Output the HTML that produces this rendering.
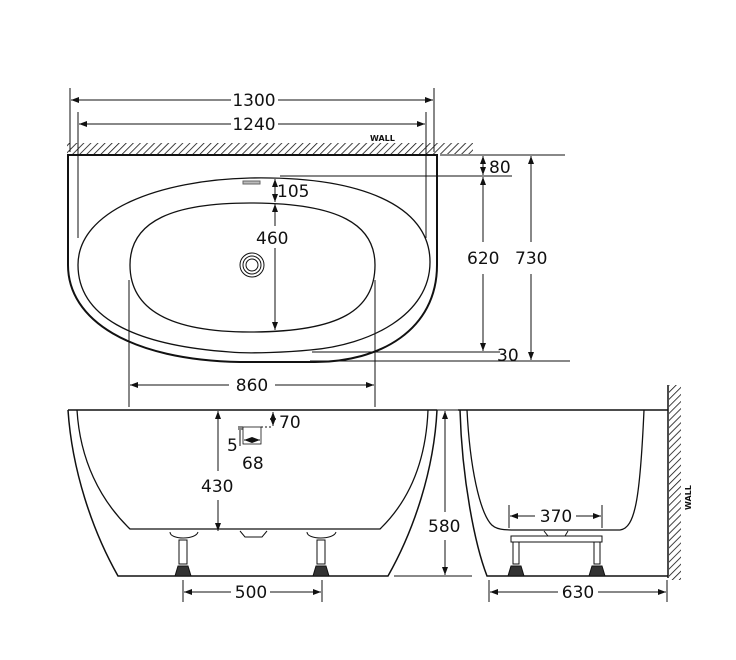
<!DOCTYPE html>
<html><head><style>html,body{margin:0;padding:0;background:#fff}svg{display:block}text{font-family:"DejaVu Sans","Liberation Sans",sans-serif;fill:#111}</style></head>
<body>
<svg width="736" height="660" viewBox="0 0 736 660" xmlns="http://www.w3.org/2000/svg">
<defs>
<pattern id="h" width="5" height="5" patternUnits="userSpaceOnUse" patternTransform="rotate(45)"><line x1="0" y1="0" x2="0" y2="5" stroke="#111" stroke-width="1.6"/></pattern>
<marker id="a" markerWidth="8" markerHeight="6" refX="8" refY="3" orient="auto-start-reverse" markerUnits="userSpaceOnUse"><path d="M0,0 L8,3 L0,6z" fill="#111"/></marker>
</defs>
<g stroke="#111" fill="none" stroke-width="1">
<!-- top view -->
<rect x="67" y="143" width="406" height="11" fill="url(#h)" stroke="none"/>
<path d="M68,265 L68,155 L437,155 L437,265 C437,330 380,362 315,362 L240,362 C130,360 68,320 68,265Z" stroke-width="2"/>
<path d="M78,265 C78,210 160,180 250,178 C360,176 430,205 430,262 C430,315 370,345 310,350 C290,352 250,354 230,352 C130,345 78,315 78,265Z" stroke-width="1.3"/>
<path d="M130,265 C130,220 175,203 250,203 C340,203 375,225 375,265 C375,310 340,332 250,332 C170,332 130,310 130,265Z" stroke-width="1.3"/>
<circle cx="252" cy="265" r="12"/><circle cx="252" cy="265" r="9"/><circle cx="252" cy="265" r="6"/>
<rect x="243" y="181" width="17" height="3" fill="#bbb" stroke="#666"/>
<line x1="70" y1="88" x2="70" y2="152"/><line x1="434" y1="88" x2="434" y2="152"/>
<line x1="71" y1="100" x2="231" y2="100" marker-start="url(#a)"/><line x1="278" y1="100" x2="433" y2="100" marker-end="url(#a)"/>
<line x1="78" y1="112" x2="78" y2="238"/><line x1="426" y1="112" x2="426" y2="238"/>
<line x1="79" y1="124" x2="231" y2="124" marker-start="url(#a)"/><line x1="278" y1="124" x2="425" y2="124" marker-end="url(#a)"/>
<line x1="440" y1="155" x2="565" y2="155"/><line x1="280" y1="176" x2="512" y2="176"/>
<line x1="312" y1="352" x2="500" y2="352"/><line x1="310" y1="361" x2="570" y2="361"/>
<line x1="483" y1="156" x2="483" y2="175" marker-start="url(#a)" marker-end="url(#a)"/>
<line x1="483" y1="177" x2="483" y2="242" marker-start="url(#a)"/><line x1="483" y1="274" x2="483" y2="351" marker-end="url(#a)"/>
<line x1="531" y1="156" x2="531" y2="242" marker-start="url(#a)"/><line x1="531" y1="274" x2="531" y2="360" marker-end="url(#a)"/>
<line x1="275" y1="179" x2="275" y2="202" marker-start="url(#a)" marker-end="url(#a)"/>
<line x1="275" y1="204" x2="275" y2="226" marker-start="url(#a)"/><line x1="275" y1="248" x2="275" y2="330" marker-end="url(#a)"/>
<line x1="129" y1="280" x2="129" y2="407"/><line x1="375" y1="280" x2="375" y2="407"/>
<line x1="130" y1="385" x2="229" y2="385" marker-start="url(#a)"/><line x1="275" y1="385" x2="374" y2="385" marker-end="url(#a)"/>
<!-- side view -->
<line x1="68" y1="410" x2="437" y2="410" stroke-width="1.5"/>
<path d="M68,410 C72,470 92,530 118,576 L388,576 C414,530 434,470 437,410" stroke-width="1.5"/>
<path d="M77,410 C80,460 100,500 130,529 L380,529 C410,500 426,460 428,410" stroke-width="1.3"/>
<path d="M240,531 L245,537 L262,537 L267,531"/>
<path d="M170,532 C170,540 196,540 198,532"/><path d="M307,532 C307,540 334,540 336,532"/>
<rect x="179" y="540" width="8" height="24"/><rect x="317" y="540" width="8" height="24"/>
<path d="M175,576 L178,566 L188,566 L191,576Z" fill="#333"/><path d="M313,576 L316,566 L326,566 L329,576Z" fill="#333"/>
<line x1="218" y1="411" x2="218" y2="471" marker-start="url(#a)"/><line x1="218" y1="500" x2="218" y2="531" marker-end="url(#a)"/>
<line x1="434" y1="410" x2="460" y2="410"/><line x1="394" y1="576" x2="472" y2="576"/>
<line x1="445" y1="411" x2="445" y2="512" marker-start="url(#a)"/><line x1="445" y1="540" x2="445" y2="575" marker-end="url(#a)"/>
<line x1="183" y1="580" x2="183" y2="602"/><line x1="322" y1="580" x2="322" y2="602"/>
<line x1="184" y1="592" x2="231" y2="592" marker-start="url(#a)"/><line x1="270" y1="592" x2="321" y2="592" marker-end="url(#a)"/>
<rect x="243" y="427" width="18" height="17" stroke-width="0.8"/>
<line x1="261" y1="427" x2="272" y2="427" stroke-dasharray="2,2"/>
<line x1="273" y1="412" x2="273" y2="426" marker-start="url(#a)" marker-end="url(#a)"/>
<line x1="238" y1="427" x2="243" y2="427"/><line x1="238" y1="429" x2="243" y2="429"/>
<line x1="240" y1="430" x2="240" y2="446"/>
<line x1="244" y1="440" x2="260" y2="440" marker-start="url(#a)" marker-end="url(#a)"/>
<!-- end view -->
<line x1="458" y1="410" x2="668" y2="410" stroke-width="1.5"/>
<path d="M460,410 C462,480 475,545 487,576 L668,576" stroke-width="1.5"/>
<path d="M467,410 C470,470 480,510 490,523 C495,530 505,530 515,530 L620,530 C635,528 640,500 644,410" stroke-width="1.3"/>
<path d="M544,531 L548,536 L565,536 L568,531"/>
<rect x="511" y="536" width="91" height="6"/>
<rect x="513" y="542" width="6" height="22"/><rect x="594" y="542" width="6" height="22"/>
<path d="M508,576 L511,566 L521,566 L524,576Z" fill="#333"/><path d="M589,576 L592,566 L602,566 L605,576Z" fill="#333"/>
<line x1="668" y1="385" x2="668" y2="578" stroke-width="1.5"/>
<rect x="669" y="385" width="12" height="195" fill="url(#h)" stroke="none"/>
<line x1="509" y1="505" x2="509" y2="528"/><line x1="602" y1="505" x2="602" y2="528"/>
<line x1="510" y1="516" x2="535" y2="516" marker-start="url(#a)"/><line x1="576" y1="516" x2="601" y2="516" marker-end="url(#a)"/>
<line x1="489" y1="580" x2="489" y2="602"/><line x1="667" y1="580" x2="667" y2="602"/>
<line x1="490" y1="592" x2="558" y2="592" marker-start="url(#a)"/><line x1="598" y1="592" x2="666" y2="592" marker-end="url(#a)"/>
</g>
<g font-size="17">
<text x="254" y="106" text-anchor="middle">1300</text>
<text x="254" y="130" text-anchor="middle">1240</text>
<text x="370" y="141" font-size="8" font-weight="bold">WALL</text>
<text x="489" y="173">80</text>
<text x="277" y="197">105</text>
<text x="256" y="244">460</text>
<text x="467" y="264">620</text>
<text x="515" y="264">730</text>
<text x="497" y="361">30</text>
<text x="252" y="391" text-anchor="middle">860</text>
<text x="279" y="428">70</text>
<text x="227" y="451">5</text>
<text x="242" y="469">68</text>
<text x="201" y="492">430</text>
<text x="428" y="532">580</text>
<text x="251" y="598" text-anchor="middle">500</text>
<text x="556" y="522" text-anchor="middle">370</text>
<text x="578" y="598" text-anchor="middle">630</text>
<text x="0" y="0" font-size="8" font-weight="bold" transform="translate(691,510) rotate(-90)">WALL</text>
</g>
</svg>
</body></html>
